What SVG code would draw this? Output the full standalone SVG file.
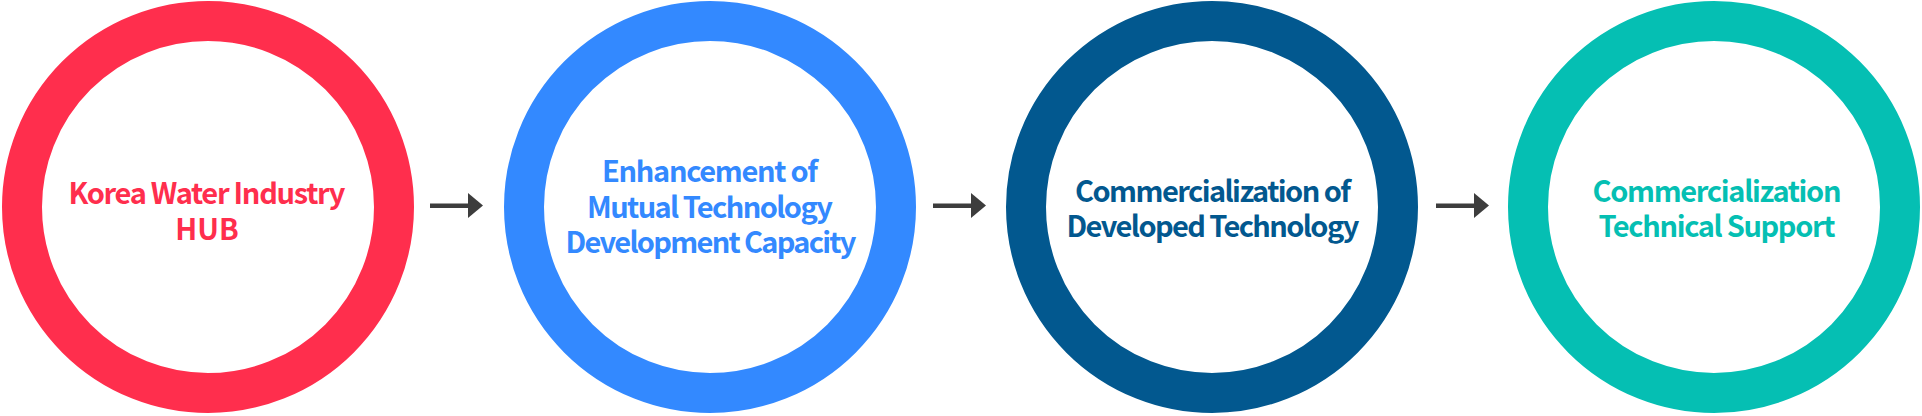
<svg xmlns="http://www.w3.org/2000/svg" width="1922" height="416" viewBox="0 0 1922 416">
<style>
.ring{fill:#fff;stroke-width:40}
.t{font-family:"Noto Sans CJK KR","Noto Sans",sans-serif;font-weight:700;font-size:29px;text-anchor:middle;lengthAdjust:spacing}
.arr{fill:#3d3d3d}
</style>
<rect width="1922" height="416" fill="#fff"/>
<g id="node1">
<circle class="ring" cx="208" cy="207" r="186" stroke="#ff2e4d"/>
<text class="t" fill="#ff2e4d"><tspan x="207" y="204" textLength="277" lengthAdjust="spacing">Korea Water Industry</tspan><tspan x="207" y="240">HUB</tspan></text>
</g>
<g id="node2">
<circle class="ring" cx="710" cy="207" r="186" stroke="#3389ff"/>
<text class="t" fill="#3389ff"><tspan x="710" y="182" textLength="216" lengthAdjust="spacing">Enhancement of</tspan><tspan x="710" y="218" textLength="246" lengthAdjust="spacing">Mutual Technology</tspan><tspan x="711" y="253" textLength="291" lengthAdjust="spacing">Development Capacity</tspan></text>
</g>
<g id="node3">
<circle class="ring" cx="1212" cy="207" r="186" stroke="#02588f"/>
<text class="t" fill="#02588f"><tspan x="1213" y="202" textLength="276" lengthAdjust="spacing">Commercialization of</tspan><tspan x="1213" y="237" textLength="293" lengthAdjust="spacing">Developed Technology</tspan></text>
</g>
<g id="node4">
<circle class="ring" cx="1714" cy="207" r="186" stroke="#05bfb3"/>
<text class="t" fill="#05bfb3"><tspan x="1717" y="202" textLength="249" lengthAdjust="spacing">Commercialization</tspan><tspan x="1717" y="237" textLength="237" lengthAdjust="spacing">Technical Support</tspan></text>
</g>
<g id="connectors">
<g class="arr">
<rect x="430" y="203.5" width="40" height="4.5"/><polygon points="468,193 483,205.5 468,218"/>
</g>
<g class="arr">
<rect x="933" y="203.5" width="40" height="4.5"/><polygon points="971,193 986,205.5 971,218"/>
</g>
<g class="arr">
<rect x="1436" y="203.5" width="40" height="4.5"/><polygon points="1474,193 1489,205.5 1474,218"/>
</g>
</g>
</svg>
